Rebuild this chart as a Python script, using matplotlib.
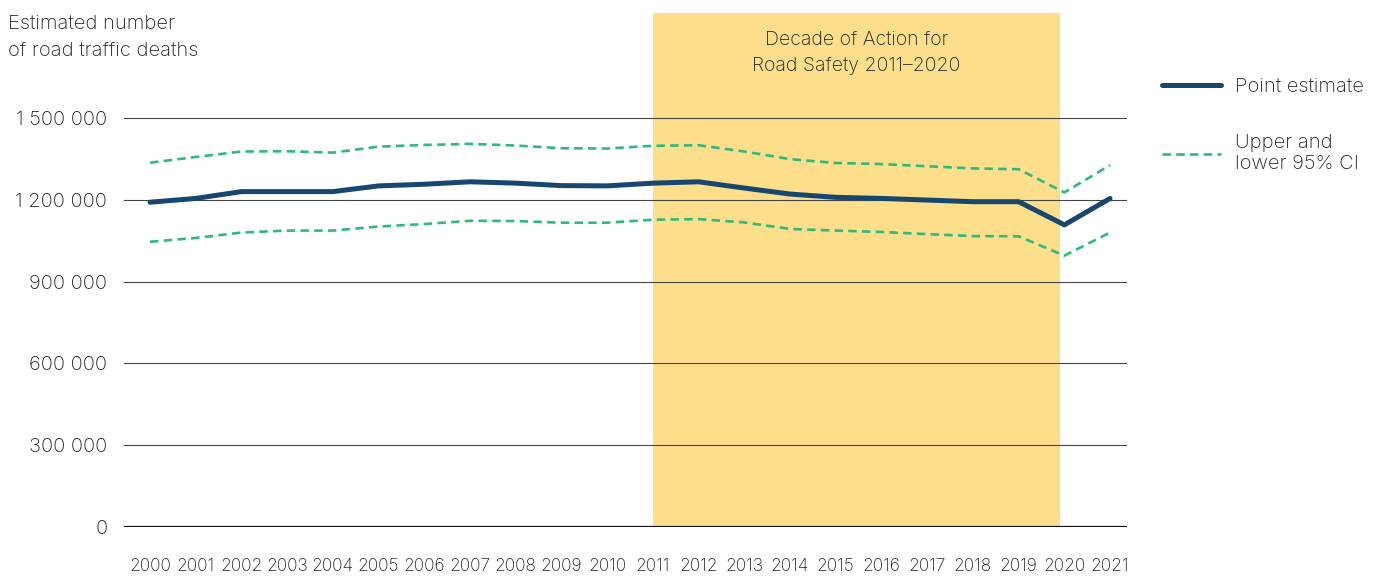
import numpy as np
import matplotlib.pyplot as plt
from matplotlib.ticker import FuncFormatter

plt.rcParams['font.family'] = ['Inter', 'DejaVu Sans']
plt.rcParams['font.weight'] = 'light'

years = list(range(2000, 2022))
point_estimate = [1191000, 1205000, 1230000, 1230000, 1230000, 1251000, 1257000, 1266000,
                  1261000, 1252000, 1251000, 1261000, 1266000, 1243000, 1221000, 1209000,
                  1205000, 1199000, 1193000, 1193000, 1108000, 1205000]
upper_ci = [1336000, 1357000, 1377000, 1378000, 1373000, 1395000, 1401000, 1405000,
            1399000, 1389000, 1388000, 1398000, 1400000, 1377000, 1349000, 1335000,
            1331000, 1323000, 1315000, 1312000, 1227000, 1327000]
lower_ci = [1046000, 1060000, 1080000, 1087000, 1087000, 1102000, 1111000, 1123000,
            1122000, 1116000, 1116000, 1127000, 1129000, 1117000, 1093000, 1087000,
            1082000, 1074000, 1067000, 1066000, 995000, 1080000]
yticks = [0, 300000, 600000, 900000, 1200000, 1500000]
decade = (2011, 2019.9)

navy = '#17476f'
green = '#2dbb7c'
yellow = '#fdde8a'
text_col = '#222222'

fig = plt.figure(figsize=(13.91, 5.76), dpi=100)
ax = fig.add_axes([124 / 1391, 49 / 576, (1127 - 124) / 1391, (527 - 13) / 576])

# decade of action band
ax.axvspan(decade[0], decade[1], color=yellow, lw=0, zorder=0)
ax.text((decade[0] + decade[1]) / 2, 0.922, 'Decade of Action for\nRoad Safety 2011–2020',
        transform=ax.get_xaxis_transform(), ha='center', va='center',
        fontsize=14, color=text_col, linespacing=1.6)

for t in yticks[1:]:
    ax.axhline(t, color='#444444', lw=0.8, zorder=1)
ax.axhline(0, color='#111111', lw=1.6, zorder=1)

ax.plot(years, upper_ci, color=green, lw=1.9, dashes=(3.2, 2.0), zorder=3)
ax.plot(years, lower_ci, color=green, lw=1.9, dashes=(3.2, 2.0), zorder=3,
        label='Upper and\nlower 95% CI')
ax.plot(years, point_estimate, color=navy, lw=3.6, solid_capstyle='round', zorder=4,
        label='Point estimate')

ax.set_xlim(1999.43, 2021.37)
ax.set_ylim(0, 1885000)
ax.set_xticks(years)
ax.set_yticks(yticks)
ax.yaxis.set_major_formatter(FuncFormatter(lambda v, p: f'{int(v):,}'.replace(',', ' ')))
ax.tick_params(axis='both', length=0, colors=text_col)
ax.tick_params(axis='y', labelsize=14.5, pad=12)
ax.tick_params(axis='x', labelsize=12.5, pad=22)
for s in ax.spines.values():
    s.set_visible(False)

fig.text(8 / 1391, 1 - 15 / 576, 'Estimated number\nof road traffic deaths',
         ha='left', va='top', fontsize=14.5, color=text_col, linespacing=1.6)

handles, labels = ax.get_legend_handles_labels()
leg = fig.legend(handles[::-1], labels[::-1], loc='upper left',
                 bbox_to_anchor=(1144 / 1391, 1 - 60 / 576), frameon=False,
                 fontsize=14.5, handlelength=2.9, handletextpad=0.7, labelspacing=1.9,
                 labelcolor=text_col)

fig.savefig('out.png', dpi=100)
